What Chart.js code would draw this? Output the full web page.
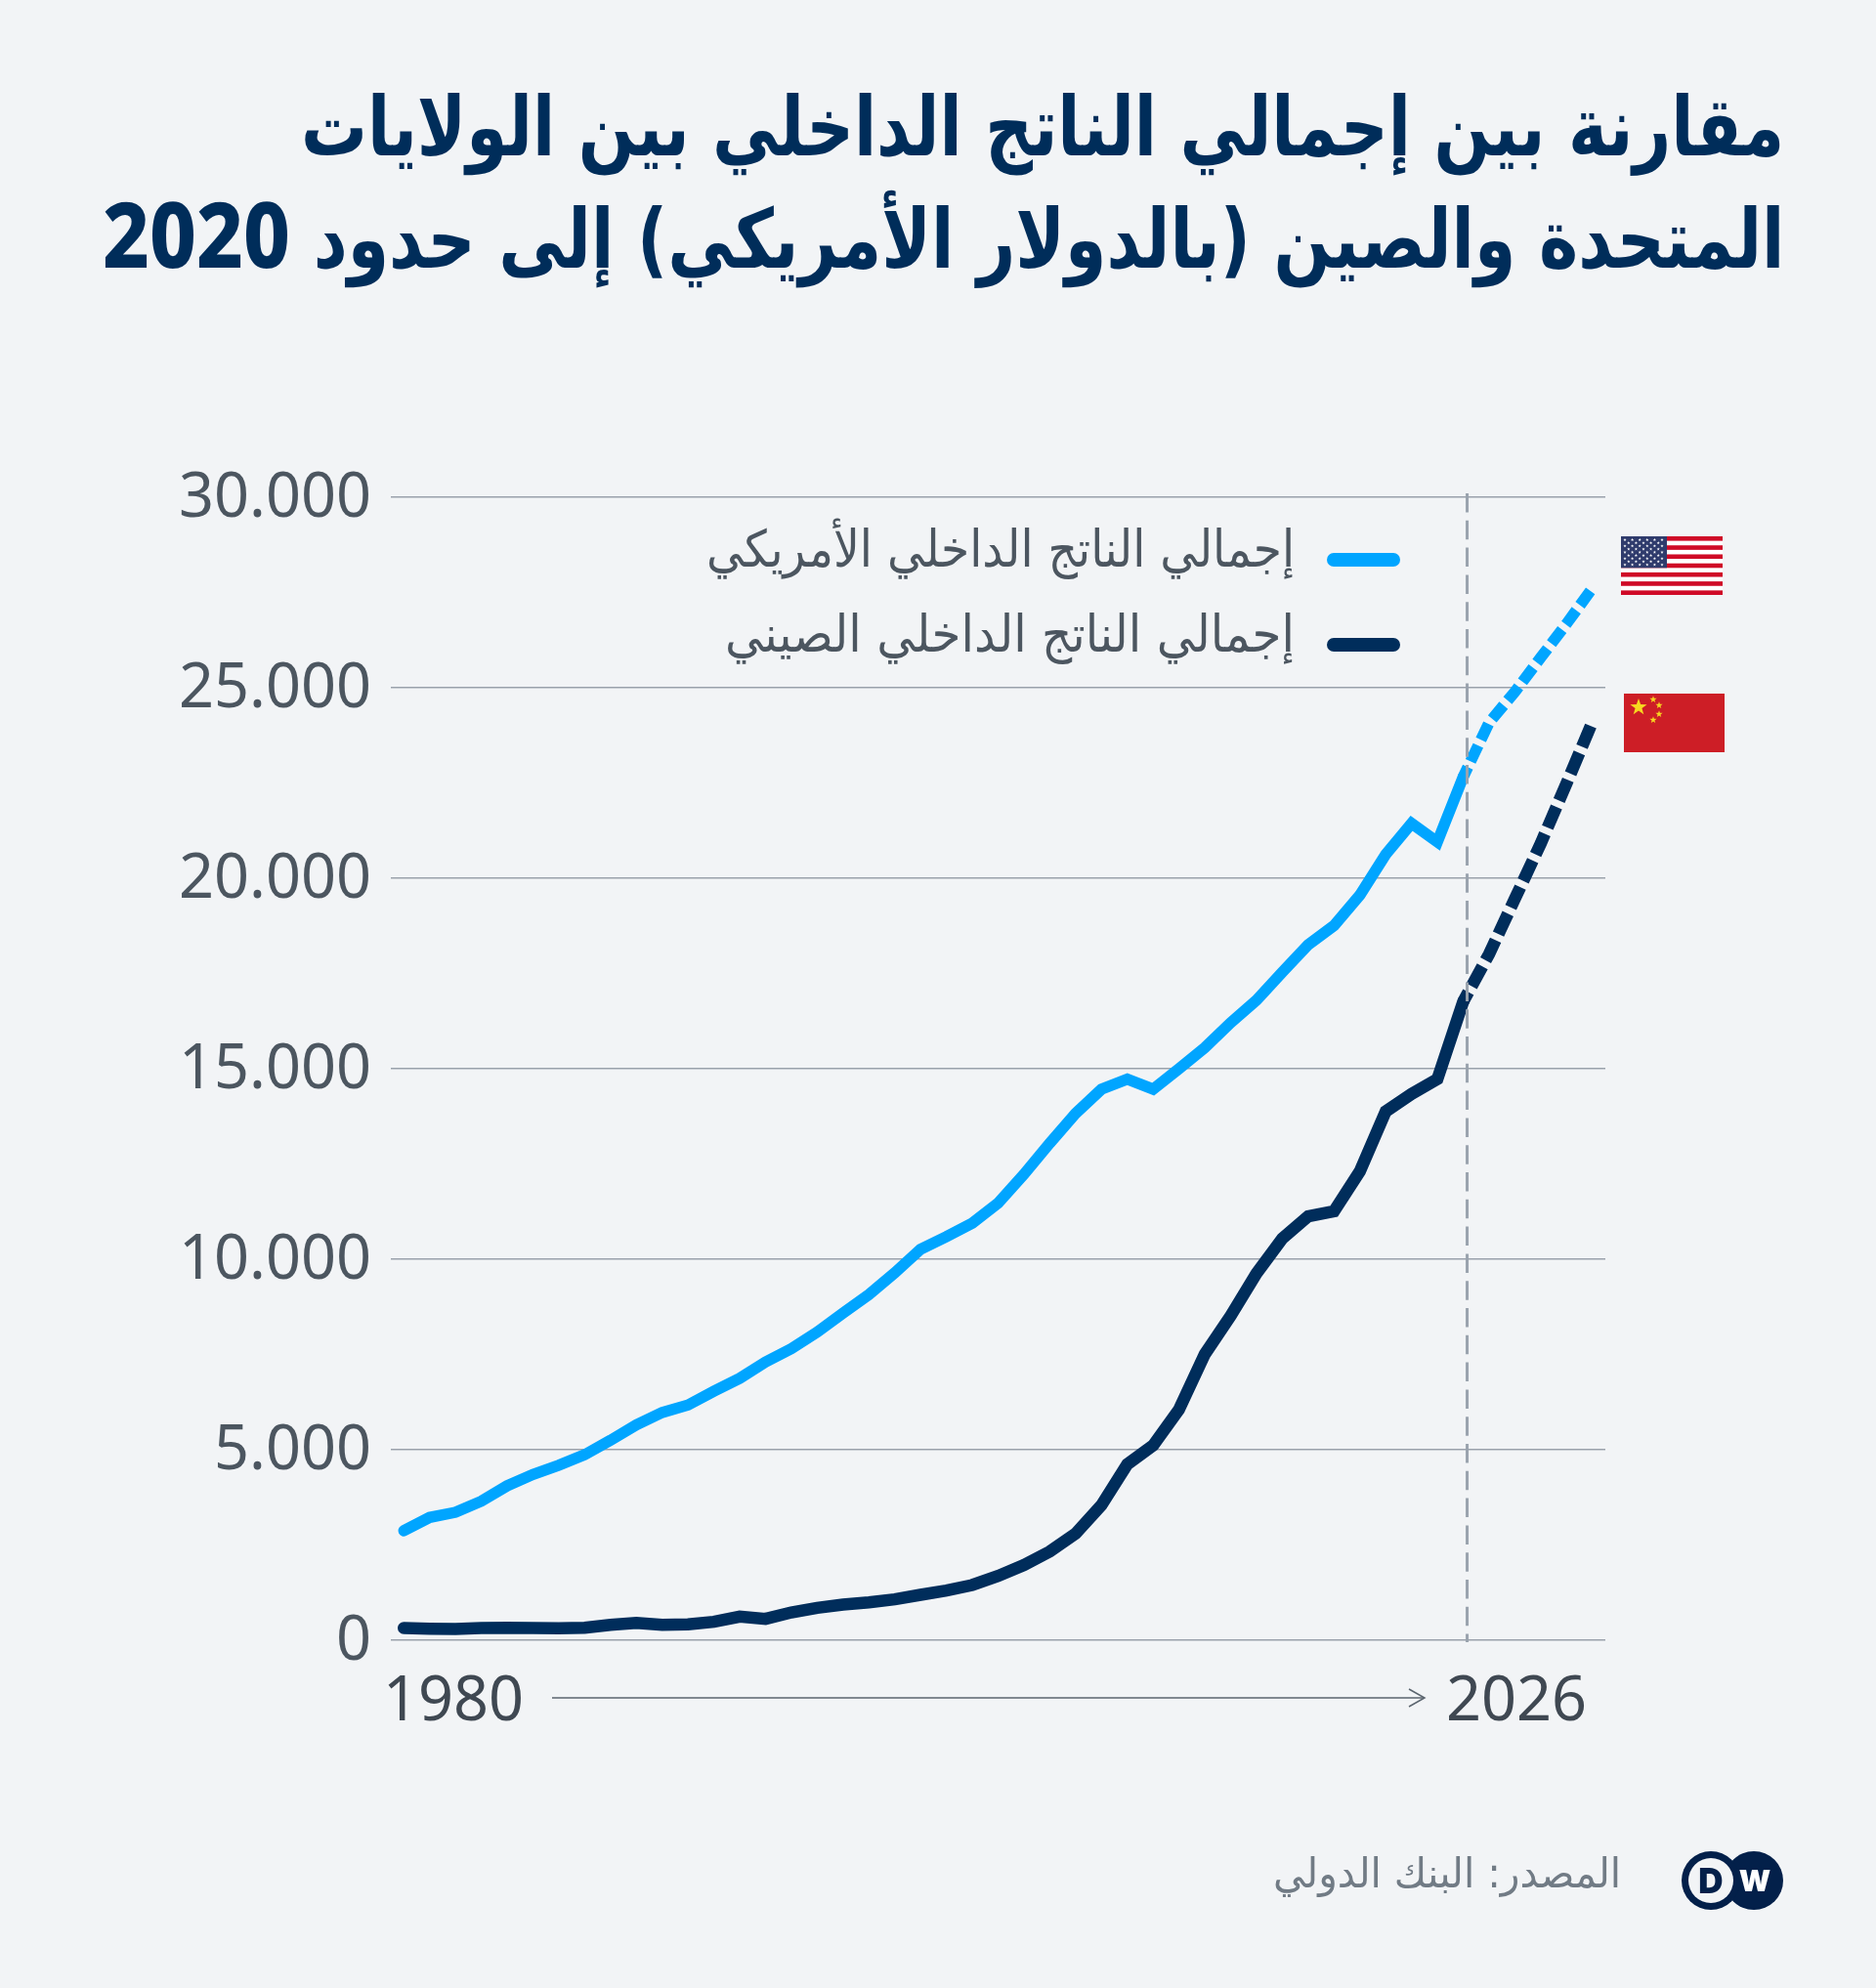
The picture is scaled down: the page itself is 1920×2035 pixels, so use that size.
<!DOCTYPE html>
<html lang="ar">
<head>
<meta charset="utf-8">
<title>GDP comparison</title>
<script src="https://cdn.jsdelivr.net/npm/chart.js@4"></script>
<style>
    html, body { margin: 0; padding: 0; background: #f2f4f6; }
    #page { position: relative; width: 1920px; height: 2035px; overflow: hidden; background: #f2f4f6; }
    #page canvas { position: absolute; left: 0; top: 0; }
    .label { position: absolute; white-space: nowrap; transform-origin: right center; }
    .ar { direction: rtl; font-family: "DejaVu Sans", sans-serif; }
    .title { right: 94px; font-family: "DejaVu Sans Condensed", "DejaVu Sans", sans-serif; font-weight: 700; font-size: 84px; line-height: 115px; color: #002d5a; }
    .title span { font-family: "Noto Sans", sans-serif; font-weight: 800; font-size: 92px; line-height: 100px; }
    .legend { right: 595px; font-size: 52px; line-height: 60px; color: #4c5660; }
    .source { right: 261px; top: 1893px; font-size: 42px; line-height: 50px; color: #717b85; }
    .year { top: 1697px; font-family: "Noto Sans", sans-serif; font-size: 63px; line-height: 80px; color: #3f4852; }
    .swatch { position: absolute; left: 1358px; width: 75px; height: 14px; border-radius: 7px; }
    svg { position: absolute; left: 0; top: 0; }
</style>
</head>
<body>
<div id="page">
    <canvas id="gdpChart" width="1920" height="2035"></canvas>

    <div class="label ar title" data-width="1518" style="top:73px">مقارنة بين إجمالي الناتج الداخلي بين الولايات</div>
    <div class="label ar title" data-width="1721" style="top:188px">المتحدة والصين (بالدولار الأمريكي) إلى حدود <span>2020</span></div>

    <div class="label ar legend" data-width="602" style="top:532px">إجمالي الناتج الداخلي الأمريكي</div>
    <div class="swatch" style="top:566px;background:#00a5ff"></div>
    <div class="label ar legend" data-width="583" style="top:619px">إجمالي الناتج الداخلي الصيني</div>
    <div class="swatch" style="top:653px;background:#002d5b"></div>

    <div class="label year" id="firstYear" style="left:392px"></div>
    <div class="label year" id="lastYear" style="left:1480px"></div>

    <div class="label ar source" data-width="356">المصدر: البنك الدولي</div>

    <svg id="overlay" width="1920" height="2035" xmlns="http://www.w3.org/2000/svg">
        <!-- time arrow -->
        <line x1="565" y1="1738" x2="1457" y2="1738" stroke="#5a646e" stroke-width="1.5"/>
        <polyline points="1442,1729 1458,1738 1442,1747" fill="none" stroke="#5a646e" stroke-width="1.5"/>

        <!-- flags -->
        <g id="usFlag"></g>
        <rect x="1662" y="710" width="103" height="60" fill="#cd1e26"/>
        <g id="cnStars" fill="#f7d820"></g>

        <!-- DW logo -->
        <circle cx="1795" cy="1925" r="30" fill="#03204a"/>
        <circle cx="1751" cy="1925" r="30" fill="#03204a"/>
        <circle cx="1751" cy="1925" r="23" fill="#f2f4f6"/>
        <text x="1751" y="1938" text-anchor="middle" font-family="Inter, sans-serif" font-weight="900" font-size="35" fill="#03204a">D</text>
        <text x="1796" y="1936" text-anchor="middle" font-family="Inter, sans-serif" font-weight="900" font-size="30" fill="#fff">W</text>
    </svg>
</div>

<script>
const years = [
    '1980', '1981', '1982', '1983', '1984', '1985', '1986', '1987', '1988', '1989',
    '1990', '1991', '1992', '1993', '1994', '1995', '1996', '1997', '1998', '1999',
    '2000', '2001', '2002', '2003', '2004', '2005', '2006', '2007', '2008', '2009',
    '2010', '2011', '2012', '2013', '2014', '2015', '2016', '2017', '2018', '2019',
    '2020', '2021', '2022', '2023', '2024', '2025', '2026'
];
const usGdp = [
    2860, 3210, 3345, 3635, 4040, 4340, 4580, 4855, 5235, 5640,
    5965, 6160, 6520, 6860, 7290, 7640, 8075, 8575, 9060, 9630,
    10250, 10580, 10935, 11460, 12215, 13035, 13815, 14450, 14715, 14450,
    14990, 15540, 16195, 16785, 17525, 18240, 18745, 19545, 20610, 21430,
    20940, 22650, 24070, 24880, 25780, 26670, 27600
];
const chinaGdp = [
    308, 291, 282, 308, 316, 308, 299, 316, 393, 444,
    393, 402, 470, 607, 547, 718, 838, 923, 983, 1060,
    1180, 1291, 1436, 1675, 1962, 2315, 2786, 3532, 4604, 5101,
    6043, 7495, 8502, 9614, 10530, 11115, 11245, 12295, 13865, 14323,
    14715, 16750, 17995, 19450, 20900, 22480, 24090
];
const yTickLabels = ['0', '5.000', '10.000', '15.000', '20.000', '25.000', '30.000'];
const forecastFrom = 41; // index of 2021, the last solid point

const forecastMarker = {
    id: 'forecastMarker',
    afterDatasetsDraw(chart) {
        const { ctx, scales } = chart;
        const x = scales.x.getPixelForValue(forecastFrom) + 4;
        ctx.save();
        ctx.strokeStyle = '#9aa3ae';
        ctx.lineWidth = 3;
        ctx.setLineDash([19.5, 8.3]);
        ctx.beginPath();
        ctx.moveTo(x, 505);
        ctx.lineTo(x, 1681);
        ctx.stroke();
        ctx.restore();
    }
};

const forecastSegment = (dash) => ({
    borderDash: (seg) => (seg.p0DataIndex >= forecastFrom ? dash : undefined),
    borderDashOffset: (seg) => (seg.p0DataIndex >= forecastFrom ? dash[0] - 11 : undefined),
    borderCapStyle: (seg) => (seg.p0DataIndex >= forecastFrom ? 'butt' : 'round')
});

new Chart(document.getElementById('gdpChart'), {
    type: 'line',
    data: {
        labels: years,
        datasets: [
            { label: 'US', data: usGdp, borderColor: '#00a5ff', borderWidth: 11.5, segment: forecastSegment([18, 6.5]) },
            { label: 'China', data: chinaGdp, borderColor: '#002d5b', borderWidth: 12.5, segment: forecastSegment([23, 7]) }
        ]
    },
    options: {
        responsive: false,
        animation: false,
        devicePixelRatio: 1,
        layout: { padding: { top: 508.5, bottom: 356.5, right: 277, left: 0 } },
        elements: { point: { radius: 0 }, line: { tension: 0, borderCapStyle: 'round' } },
        plugins: { legend: { display: false }, tooltip: { enabled: false } },
        scales: {
            x: { type: 'category', offset: true, display: false },
            y: {
                min: 0,
                max: 30000,
                afterFit: (scale) => { scale.width = 400; },
                border: { display: false },
                grid: { color: '#9aa1ab', lineWidth: 1.5, drawTicks: false },
                ticks: {
                    stepSize: 5000,
                    padding: 20,
                    labelOffset: 3,
                    color: '#4c5660',
                    font: { family: '"Noto Sans", sans-serif', size: 63 },
                    callback: (value) => yTickLabels[value / 5000]
                }
            }
        }
    },
    plugins: [forecastMarker]
});

document.getElementById('firstYear').textContent = years[0];
document.getElementById('lastYear').textContent = years[years.length - 1];

// Arabic runs are squeezed to the widths they have in the reference
document.querySelectorAll('[data-width]').forEach((el) => {
    el.style.transform = `scaleX(${el.dataset.width / el.offsetWidth})`;
});

const svgNs = 'http://www.w3.org/2000/svg';
const addSvg = (parent, tag, attrs) => {
    const node = document.createElementNS(svgNs, tag);
    Object.entries(attrs).forEach(([key, val]) => node.setAttribute(key, val));
    parent.appendChild(node);
};
const starPoints = (cx, cy, r) => {
    const pts = [];
    for (let i = 0; i < 10; i++) {
        const radius = i % 2 ? r * 0.4 : r;
        const angle = -Math.PI / 2 + i * Math.PI / 5;
        pts.push(`${cx + radius * Math.cos(angle)},${cy + radius * Math.sin(angle)}`);
    }
    return pts.join(' ');
};

const usFlag = document.getElementById('usFlag');
addSvg(usFlag, 'rect', { x: 1659, y: 549, width: 104, height: 60, fill: '#fff' });
for (let i = 0; i < 13; i += 2) {
    addSvg(usFlag, 'rect', { x: 1659, y: 549 + i * 60 / 13, width: 104, height: 60 / 13, fill: '#cf0a26' });
}
addSvg(usFlag, 'rect', { x: 1659, y: 549, width: 47, height: 32.3, fill: '#2f3b6c' });
for (let row = 0; row < 9; row++) {
    const count = row % 2 ? 5 : 6;
    for (let col = 0; col < count; col++) {
        const cx = 1663 + col * 7.6 + (row % 2 ? 3.8 : 0);
        addSvg(usFlag, 'polygon', { points: starPoints(cx, 552.5 + row * 3.2, 1.7), fill: '#fff' });
    }
}

const cnStars = document.getElementById('cnStars');
[[1677, 724, 9], [1692, 716, 3.8], [1698, 722, 3.8], [1698, 731, 3.8], [1692, 737, 3.8]].forEach(([cx, cy, r]) => {
    addSvg(cnStars, 'polygon', { points: starPoints(cx, cy, r) });
});
</script>
</body>
</html>
